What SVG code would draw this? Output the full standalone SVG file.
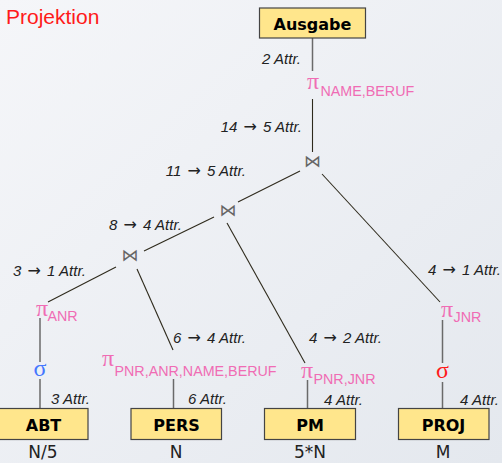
<svg xmlns="http://www.w3.org/2000/svg" width="502" height="463" viewBox="0 0 502 463">
<defs>
<linearGradient id="bg" x1="0" y1="0" x2="1" y2="1">
<stop offset="0" stop-color="#f5f6f9"/>
<stop offset="1" stop-color="#e4e8ee"/>
</linearGradient>
<style>
.box{fill:#ffe68c;stroke:#444;stroke-width:1.2}
.bt{font-family:"DejaVu Sans",Verdana,sans-serif;font-weight:bold;font-size:16px;fill:#000;text-anchor:middle}
.card{font-family:"DejaVu Sans",Verdana,sans-serif;font-size:17px;fill:#222;text-anchor:middle}
.lab{font-family:"Liberation Sans",Arial,sans-serif;font-style:italic;font-size:15px;fill:#222}
.ar{font-family:"DejaVu Sans",sans-serif;font-style:normal;font-size:16px}
.end{text-anchor:end}
.pi{font-family:"Liberation Serif","Times New Roman",serif;font-size:24px;fill:#f06cb4}
.sub{font-family:"Liberation Sans",Arial,sans-serif;font-size:14.3px;fill:#f06cb4}
.sig{font-family:"Liberation Serif","Times New Roman",serif;font-size:24px}
.join{font-family:"DejaVu Sans",sans-serif;font-size:17px;fill:#666;text-anchor:middle}
.gl{stroke:#6a6a6a;stroke-width:1.5;fill:none}
.dl{stroke:#2e2a1c;stroke-width:1.1;fill:none}
</style>
</defs>
<rect width="502" height="463" fill="url(#bg)"/>
<text x="6" y="24" font-family="'Liberation Sans',Arial,sans-serif" font-size="21" fill="#ff1a1a">Projektion</text>

<g id="connectors">
<line class="gl" x1="312.5" y1="38" x2="312.5" y2="71"/>
<line class="dl" x1="312.5" y1="99" x2="312.5" y2="152"/>
<line class="dl" x1="300" y1="171" x2="238" y2="202"/>
<line class="dl" x1="322" y1="174" x2="440" y2="302"/>
<line class="dl" x1="214" y1="217" x2="144" y2="251"/>
<line class="dl" x1="227" y1="223" x2="305" y2="363"/>
<line class="dl" x1="116" y1="267" x2="48" y2="302"/>
<line class="dl" x1="137" y1="269" x2="173" y2="350"/>
<line class="gl" x1="40" y1="318" x2="40" y2="362"/>
<line class="gl" x1="40" y1="379" x2="40" y2="408"/>
<line class="gl" x1="173.5" y1="379" x2="173.5" y2="408"/>
<line class="gl" x1="307.5" y1="380" x2="307.5" y2="408"/>
<line class="gl" x1="442.5" y1="320" x2="442.5" y2="363"/>
<line class="gl" x1="442.5" y1="382" x2="442.5" y2="408"/>
</g>

<g id="labels">
<text class="lab end" x="301" y="64">2 Attr.</text>
<text class="lab end" x="302" y="132">14 <tspan class="ar" dx="2">→</tspan><tspan dx="2"> 5 Attr.</tspan></text>
<text class="lab end" x="246" y="176">11 <tspan class="ar" dx="2">→</tspan><tspan dx="2"> 5 Attr.</tspan></text>
<text class="lab end" x="182" y="230">8 <tspan class="ar" dx="2">→</tspan><tspan dx="2"> 4 Attr.</tspan></text>
<text class="lab end" x="86" y="276">3 <tspan class="ar" dx="2">→</tspan><tspan dx="2"> 1 Attr.</tspan></text>
<text class="lab end" x="501" y="275">4 <tspan class="ar" dx="2">→</tspan><tspan dx="2"> 1 Attr.</tspan></text>
<text class="lab end" x="246" y="343">6 <tspan class="ar" dx="2">→</tspan><tspan dx="2"> 4 Attr.</tspan></text>
<text class="lab end" x="382" y="343">4 <tspan class="ar" dx="2">→</tspan><tspan dx="2"> 2 Attr.</tspan></text>
<text class="lab end" x="90" y="404">3 Attr.</text>
<text class="lab end" x="227" y="404">6 Attr.</text>
<text class="lab end" x="363" y="405">4 Attr.</text>
<text class="lab end" x="499" y="405">4 Attr.</text>
</g>

<g id="ausgabe"><rect class="box" x="259.5" y="8" width="106" height="30"/><text class="bt" x="312.5" y="30">Ausgabe</text></g>

<g id="pi-name-beruf"><text class="pi" x="307" y="89">π</text><text class="sub" x="320.5" y="96">NAME,BERUF</text></g>
<g id="join1"><text class="join" x="312.5" y="167">⋈</text></g>
<g id="join2"><text class="join" x="228" y="215.5">⋈</text></g>
<g id="join3"><text class="join" x="130" y="260.5">⋈</text></g>

<g id="pi-anr"><text class="pi" x="36" y="316">π</text><text class="sub" x="47.5" y="321">ANR</text></g>
<g id="sigma-abt"><text class="sig" x="40" y="376" text-anchor="middle" fill="#4477ff">σ</text></g>
<g id="abt"><rect class="box" x="-1" y="408.5" width="89" height="31"/><text class="bt" x="43.5" y="431">ABT</text><text class="card" x="43" y="458">N/5</text></g>

<g id="pi-pers"><text class="pi" x="102" y="366">π</text><text class="sub" x="114.5" y="376">PNR,ANR,NAME,BERUF</text></g>
<g id="pers"><rect class="box" x="131" y="408.5" width="90.5" height="31"/><text class="bt" x="176.5" y="431">PERS</text><text class="card" x="176" y="458">N</text></g>

<g id="pi-pm"><text class="pi" x="301" y="378">π</text><text class="sub" x="313.5" y="383.5">PNR,JNR</text></g>
<g id="pm"><rect class="box" x="264.5" y="408.5" width="91" height="31"/><text class="bt" x="310" y="431">PM</text><text class="card" x="310" y="458">5*N</text></g>

<g id="pi-jnr"><text class="pi" x="441" y="317">π</text><text class="sub" x="453.5" y="322">JNR</text></g>
<g id="sigma-proj"><text class="sig" x="442.5" y="378" text-anchor="middle" fill="#ff1a1a">σ</text></g>
<g id="proj"><rect class="box" x="398.5" y="408.5" width="90.5" height="31"/><text class="bt" x="443.5" y="431">PROJ</text><text class="card" x="443" y="458">M</text></g>
</svg>
